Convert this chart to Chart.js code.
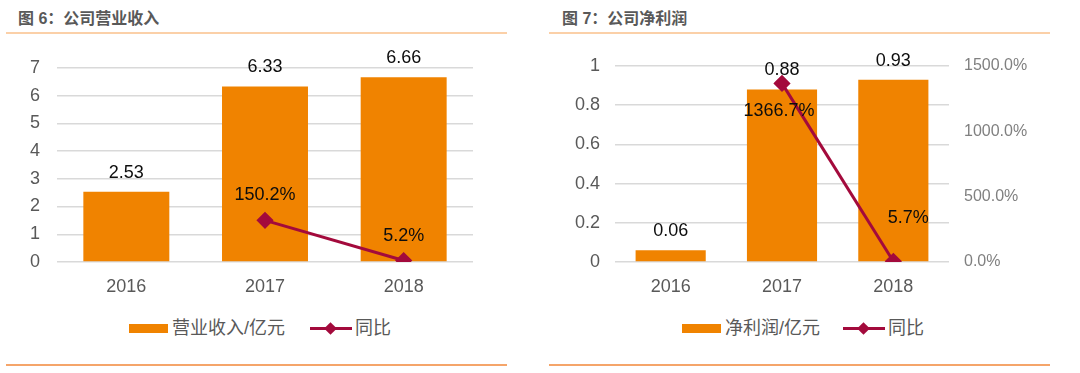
<!DOCTYPE html>
<html>
<head>
<meta charset="utf-8">
<script src="https://cdn.jsdelivr.net/npm/chart.js@4.4.1/dist/chart.umd.min.js"></script>
<style>
  body { margin: 0; background: #fff; }
  #page { position: relative; width: 1080px; height: 373px; overflow: hidden; font-family: "Liberation Sans", Arial, "Noto Sans CJK SC", sans-serif; }
  .panel { position: absolute; top: 0; width: 540px; height: 373px; }
  .title { position: absolute; top: 5px; font: bold 16px "Liberation Sans", "Noto Sans CJK SC", sans-serif; color: #595959; white-space: nowrap; }
  .topline { position: absolute; top: 32px; height: 2px; background: #fbd0a8; }
  .botline { position: absolute; top: 364px; height: 2px; background: #f5a56a; }
  .chartbox { position: absolute; top: 40px; left: 0; width: 540px; height: 270px; }
  .legend { position: absolute; top: 316px; height: 24px; font-size: 18px; color: #595959; white-space: nowrap; }
  .legend span { position: absolute; top: 0; line-height: 24px; }
  .lg-bar { width: 39px; height: 9px; background: #f08300; top: 8px !important; }
  .lg-line { height: 3px; background: #a30a3c; top: 11px !important; }
  .lg-dot { width: 9px; height: 9px; background: #a30a3c; transform: rotate(45deg); top: 8px !important; }
</style>
</head>
<body>
<div id="page">
  <div class="panel" style="left:0">
    <div class="title" style="left:18px">图 6：公司营业收入</div>
    <div class="topline" style="left:6px;width:501px"></div>
    <div class="chartbox"><canvas id="c1" width="540" height="270"></canvas></div>
    <div class="legend" style="left:0">
      <span class="lg-bar" style="left:129px"></span>
      <span style="left:172px">营业收入/亿元</span>
      <span class="lg-line" style="left:310px;width:42px"></span>
      <span class="lg-dot" style="left:326px"></span>
      <span style="left:355px">同比</span>
    </div>
    <div class="botline" style="left:6px;width:501px"></div>
  </div>
  <div class="panel" style="left:540px">
    <div class="title" style="left:22px">图 7：公司净利润</div>
    <div class="topline" style="left:9px;width:501px"></div>
    <div class="chartbox"><canvas id="c2" width="540" height="270"></canvas></div>
    <div class="legend" style="left:0">
      <span class="lg-bar" style="left:142px"></span>
      <span style="left:185px">净利润/亿元</span>
      <span class="lg-line" style="left:303px;width:42px"></span>
      <span class="lg-dot" style="left:319px"></span>
      <span style="left:348px">同比</span>
    </div>
    <div class="botline" style="left:9px;width:501px"></div>
  </div>
</div>
<script>
const years = ['2016', '2017', '2018'];
const revenue = [2.53, 6.33, 6.66];
const revenueYoY = [null, 150.2, 5.2];
const profit = [0.06, 0.88, 0.93];
const profitYoY = [null, 1366.7, 5.7];
const revenueTicks = [0, 1, 2, 3, 4, 5, 6, 7];
const profitTicks = [0, 0.2, 0.4, 0.6, 0.8, 1];
const profitYoYTicks = [0, 500, 1000, 1500];

const ORANGE = '#f08300';
const RED = '#a30a3c';
const GRID = '#d9d9d9';
const TICK = '#595959';

Chart.defaults.font.family = '"Liberation Sans", Arial, "Noto Sans CJK SC", sans-serif';
Chart.defaults.font.size = 18;
Chart.defaults.animation = false;

// draws the value labels, offsets given per dataset / point
const valueLabels = {
    id: 'valueLabels',
    afterDatasetsDraw(chart, args, opts) {
        const ctx = chart.ctx;
        ctx.save();
        ctx.font = '18px "Liberation Sans", Arial, sans-serif';
        ctx.fillStyle = '#0d0d0d';
        ctx.textAlign = 'center';
        ctx.textBaseline = 'middle';
        chart.data.datasets.forEach(function (ds, i) {
            const meta = chart.getDatasetMeta(i);
            const off = opts.offsets[i];
            meta.data.forEach(function (el, j) {
                const v = ds.data[j];
                if (v === null) return;
                const o = off[j] || off[0];
                const txt = ds.type === 'line' ? v.toFixed(1) + '%' : v.toFixed(2);
                ctx.fillText(txt, el.x + o[0], el.y + o[1]);
            });
        });
        ctx.restore();
    }
};

function fixedWidth(w) {
    return function (scale) { scale.width = w; };
}

new Chart(document.getElementById('c1'), {
    data: {
        labels: years,
        datasets: [{
            type: 'line',
            label: '同比',
            data: revenueYoY,
            yAxisID: 'y1',
            borderColor: RED,
            backgroundColor: RED,
            borderWidth: 3,
            pointStyle: 'rectRot',
            pointRadius: 6.5,
            order: 0
        }, {
            type: 'bar',
            label: '营业收入/亿元',
            data: revenue,
            backgroundColor: ORANGE,
            categoryPercentage: 1,
            barPercentage: 0.62,
            order: 1
        }]
    },
    options: {
        responsive: false,
        layout: { padding: { top: 26, right: 67, left: 0, bottom: 0 } },
        scales: {
            x: {
                grid: { display: false, drawTicks: false },
                border: { display: false },
                ticks: { color: TICK, padding: 14 },
                afterFit: function (s) { s.height = 48; }
            },
            y: {
                min: 0, max: 7,
                afterBuildTicks: function (s) { s.ticks = revenueTicks.map(v => ({ value: v })); },
                grid: { color: GRID, lineWidth: 1.5, drawTicks: false },
                border: { display: false },
                ticks: { color: TICK, padding: 17 },
                afterFit: fixedWidth(57)
            },
            y1: { position: 'right', display: false, min: 0, max: 700 }
        },
        plugins: {
            legend: { display: false },
            tooltip: { enabled: false },
            valueLabels: { offsets: [[[0, -25]], [[0, -19]]] }
        }
    },
    plugins: [valueLabels]
});

new Chart(document.getElementById('c2'), {
    data: {
        labels: years,
        datasets: [{
            type: 'line',
            label: '同比',
            data: profitYoY,
            yAxisID: 'y1',
            borderColor: RED,
            backgroundColor: RED,
            borderWidth: 3,
            pointStyle: 'rectRot',
            pointRadius: 6.5,
            order: 0
        }, {
            type: 'bar',
            label: '净利润/亿元',
            data: profit,
            backgroundColor: ORANGE,
            categoryPercentage: 1,
            barPercentage: 0.63,
            order: 1
        }]
    },
    options: {
        responsive: false,
        layout: { padding: { top: 26, right: 0, left: 0, bottom: 0 } },
        scales: {
            x: {
                grid: { display: false, drawTicks: false },
                border: { display: false },
                ticks: { color: TICK, padding: 14 },
                afterFit: function (s) { s.height = 48; }
            },
            y: {
                min: 0, max: 1,
                afterBuildTicks: function (s) { s.ticks = profitTicks.map(v => ({ value: v })); },
                grid: { color: GRID, lineWidth: 1.5, drawTicks: false },
                border: { display: false },
                ticks: { color: TICK, padding: 15, callback: v => String(+v.toFixed(1)) },
                afterFit: fixedWidth(75)
            },
            y1: {
                position: 'right',
                min: 0, max: 1500,
                afterBuildTicks: function (s) { s.ticks = profitYoYTicks.map(v => ({ value: v })); },
                grid: { display: false, drawTicks: false },
                border: { display: false },
                ticks: { color: '#808080', padding: 15, font: { size: 16 }, callback: v => v.toFixed(1) + '%' },
                afterFit: fixedWidth(131)
            }
        },
        plugins: {
            legend: { display: false },
            tooltip: { enabled: false },
            valueLabels: { offsets: [[[0, 0], [-3, 28], [15, -43]], [[0, -19]]] }
        }
    },
    plugins: [valueLabels]
});
</script>
</body>
</html>
